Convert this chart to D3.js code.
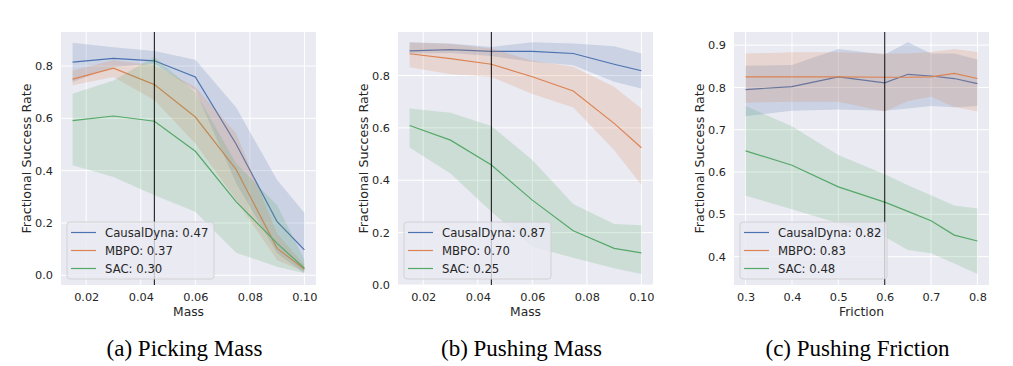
<!DOCTYPE html>
<html>
<head>
<meta charset="utf-8">
<script src="https://cdn.jsdelivr.net/npm/d3@7"></script>
<style>
  body { margin: 0; background: #fff; }
  svg text { font-family: "DejaVu Sans", sans-serif; fill: #262626; }
  .caption { font-family: "Liberation Serif", "Times New Roman", serif; fill: #000; }
</style>
</head>
<body>
<div class="chart"></div>
<script>
// x positions
const massX = [0.015, 0.03, 0.045, 0.06, 0.075, 0.09, 0.10];
const frictionX = [0.3, 0.4, 0.5, 0.6, 0.65, 0.7, 0.75, 0.8];

const massTicks = [0.02, 0.04, 0.06, 0.08, 0.10];
const frictionTicks = [0.3, 0.4, 0.5, 0.6, 0.7, 0.8];
const rateTicksA = [0.0, 0.2, 0.4, 0.6, 0.8];
const rateTicksB = [0.0, 0.2, 0.4, 0.6, 0.8];
const rateTicksC = [0.4, 0.5, 0.6, 0.7, 0.8, 0.9];

const methods = ["CausalDyna", "MBPO", "SAC"];
const colors = ["#4c72b0", "#dd8452", "#55a868"];

// (a) picking mass
const pickMean = [
  [0.815, 0.829, 0.820, 0.758, 0.501, 0.205, 0.097],
  [0.750, 0.792, 0.729, 0.605, 0.404, 0.103, 0.023],
  [0.591, 0.609, 0.589, 0.474, 0.281, 0.122, 0.027]
];
const pickHi = [
  [0.889, 0.872, 0.857, 0.824, 0.641, 0.364, 0.239],
  [0.783, 0.822, 0.803, 0.720, 0.542, 0.160, 0.040],
  [0.694, 0.745, 0.835, 0.700, 0.427, 0.268, 0.058]
];
const pickLo = [
  [0.739, 0.796, 0.809, 0.707, 0.351, 0.084, 0.008],
  [0.726, 0.758, 0.669, 0.504, 0.287, 0.058, 0.014],
  [0.421, 0.376, 0.306, 0.243, 0.086, 0.033, 0.008]
];
const pickScores = ["0.47", "0.37", "0.30"];

// (b) pushing mass
const pushMean = [
  [0.894, 0.899, 0.892, 0.892, 0.884, 0.843, 0.818],
  [0.883, 0.864, 0.843, 0.795, 0.741, 0.617, 0.524],
  [0.609, 0.553, 0.458, 0.324, 0.207, 0.140, 0.123]
];
const pushHi = [
  [0.927, 0.922, 0.909, 0.927, 0.922, 0.912, 0.884],
  [0.926, 0.920, 0.903, 0.856, 0.833, 0.757, 0.674],
  [0.674, 0.658, 0.607, 0.477, 0.309, 0.233, 0.228]
];
const pushLo = [
  [0.884, 0.886, 0.874, 0.852, 0.839, 0.776, 0.750],
  [0.831, 0.805, 0.795, 0.729, 0.678, 0.515, 0.382],
  [0.525, 0.426, 0.280, 0.146, 0.104, 0.064, 0.042]
];
const pushScores = ["0.87", "0.70", "0.25"];

// (c) pushing friction
const fricMean = [
  [0.795, 0.802, 0.825, 0.811, 0.831, 0.827, 0.821, 0.809],
  [0.825, 0.825, 0.825, 0.824, 0.824, 0.825, 0.833, 0.821],
  [0.650, 0.616, 0.565, 0.529, 0.507, 0.485, 0.451, 0.437]
];
const fricHi = [
  [0.851, 0.853, 0.891, 0.878, 0.907, 0.880, 0.880, 0.866],
  [0.880, 0.883, 0.883, 0.880, 0.880, 0.884, 0.891, 0.884],
  [0.756, 0.708, 0.640, 0.595, 0.569, 0.545, 0.521, 0.514]
];
const fricLo = [
  [0.732, 0.745, 0.748, 0.745, 0.750, 0.756, 0.753, 0.756],
  [0.764, 0.766, 0.766, 0.743, 0.768, 0.778, 0.754, 0.743],
  [0.544, 0.512, 0.479, 0.447, 0.416, 0.408, 0.384, 0.359]
];
const fricScores = ["0.82", "0.83", "0.48"];

const captions = ["(a) Picking Mass", "(b) Pushing Mass", "(c) Pushing Friction"];

let svg = d3.select('.chart').append('svg')
    .attr('width', 1013)
    .attr('height', 366);

const panels = [
  {left: 61, xs: massX, xDom: [0.01075, 0.10425], xTicks: massTicks, xFmt: ".2f", xLabel: "Mass",
   yDom: [-0.037, 0.93], yTicks: rateTicksA, mean: pickMean, hi: pickHi, lo: pickLo, scores: pickScores, vline: 0.045},
  {left: 398, xs: massX, xDom: [0.01075, 0.10425], xTicks: massTicks, xFmt: ".2f", xLabel: "Mass",
   yDom: [0, 0.966], yTicks: rateTicksB, mean: pushMean, hi: pushHi, lo: pushLo, scores: pushScores, vline: 0.045},
  {left: 734, xs: frictionX, xDom: [0.275, 0.825], xTicks: frictionTicks, xFmt: ".1f", xLabel: "Friction",
   yDom: [0.333, 0.931], yTicks: rateTicksC, mean: fricMean, hi: fricHi, lo: fricLo, scores: fricScores, vline: 0.6}
];

const axTop = 32, axBottom = 285, w = 255;

panels.forEach((p, pi) => {
  let g = svg.append("g").attr("transform", `translate(${p.left},0)`);
  const x = d3.scaleLinear().domain(p.xDom).range([0, w]);
  const y = d3.scaleLinear().domain(p.yDom).range([axBottom, axTop]);

  g.append("rect").attr("x", 0).attr("y", axTop).attr("width", w).attr("height", axBottom - axTop)
    .attr("fill", "#eaeaf2");

  // grid
  g.selectAll(".xg").data(p.xTicks).enter().append("line")
    .attr("x1", d => x(d)).attr("x2", d => x(d)).attr("y1", axTop).attr("y2", axBottom)
    .attr("stroke", "#fff").attr("stroke-width", 1);
  g.selectAll(".yg").data(p.yTicks).enter().append("line")
    .attr("x1", 0).attr("x2", w).attr("y1", d => y(d)).attr("y2", d => y(d))
    .attr("stroke", "#fff").attr("stroke-width", 1);

  // axes (labels only, no tick marks)
  let xAxis = d3.axisBottom(x).tickValues(p.xTicks).tickFormat(d3.format(p.xFmt)).tickSize(0).tickPadding(8);
  let yAxis = d3.axisLeft(y).tickValues(p.yTicks).tickFormat(d3.format(".1f")).tickSize(0).tickPadding(8);
  let gx = g.append("g").attr("transform", `translate(0,${axBottom})`).call(xAxis);
  let gy = g.append("g").call(yAxis);
  [gx, gy].forEach(a => {
    a.select(".domain").remove();
    a.selectAll("text").attr("font-size", 11.3).attr("font-family", "DejaVu Sans").attr("fill", "#262626");
  });

  g.append("text").attr("x", w / 2).attr("y", 316).attr("text-anchor", "middle")
    .attr("font-size", 12.3).text(p.xLabel);
  g.append("text").attr("transform", `translate(-34,${(axTop + axBottom) / 2}) rotate(-90)`)
    .attr("text-anchor", "middle").attr("dy", "0.35em").attr("font-size", 12.7)
    .text("Fractional Success Rate");

  // series
  methods.forEach((m, i) => {
    const pts = p.xs.map((xv, k) => ({x: xv, m: p.mean[i][k], lo: p.lo[i][k], hi: p.hi[i][k]}));
    g.append("path").datum(pts)
      .attr("d", d3.line().x(d => x(d.x)).y(d => y(d.m)))
      .attr("fill", "none").attr("stroke", colors[i]).attr("stroke-width", 1.2);
    g.append("path").datum(pts)
      .attr("d", d3.area().x(d => x(d.x)).y0(d => y(d.lo)).y1(d => y(d.hi)))
      .attr("fill", colors[i]).attr("fill-opacity", 0.2);
  });

  g.append("line").attr("x1", x(p.vline)).attr("x2", x(p.vline)).attr("y1", axTop).attr("y2", axBottom)
    .attr("stroke", "#000").attr("stroke-width", 1.2).attr("opacity", 0.8);

  // legend
  let lg = g.append("g").attr("transform", `translate(6,${axBottom - 63})`);
  lg.append("rect").attr("width", 147).attr("height", 57).attr("rx", 3)
    .attr("fill", "#eaeaf2").attr("fill-opacity", 0.8).attr("stroke", "#cccccc").attr("stroke-width", 0.8);
  methods.forEach((m, i) => {
    const cy = 10.5 + i * 18;
    lg.append("line").attr("x1", 4).attr("x2", 29).attr("y1", cy).attr("y2", cy)
      .attr("stroke", colors[i]).attr("stroke-width", 1.2);
    lg.append("text").attr("x", 38).attr("y", cy).attr("dy", "0.35em").attr("font-size", 11.7)
      .text(m + ": " + p.scores[i]);
  });

  svg.append("text").attr("class", "caption")
    .attr("x", p.left + w / 2 - 4).attr("y", 356).attr("text-anchor", "middle")
    .attr("font-size", 23).text(captions[pi]);
});
</script>
</body>
</html>
